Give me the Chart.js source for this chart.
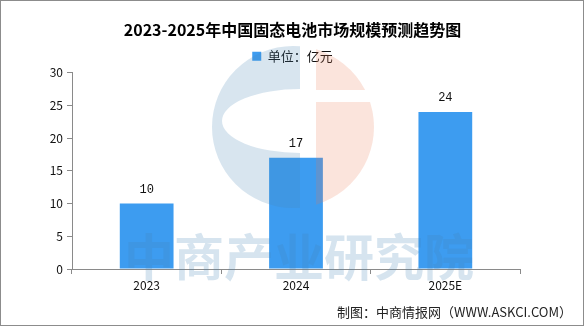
<!DOCTYPE html>
<html>
<head>
<meta charset="utf-8">
<script src="https://cdn.jsdelivr.net/npm/chart.js@4.4.0/dist/chart.umd.min.js"></script>
<style>
  html, body { margin: 0; padding: 0; background: #fff; }
  #wrap { position: relative; width: 585px; height: 327px; }
  #frame { position: absolute; left: 0; top: 0; width: 584px; height: 326px; box-sizing: border-box; border: 1px solid #8c8c8c; pointer-events: none; }
</style>
</head>
<body>
<div id="wrap">
  <canvas id="marketChart" width="585" height="327"></canvas>
  <div id="frame"></div>
</div>
<script>
const years = ['2023', '2024', '2025E'];
const marketSize = [10, 17, 24];
const yTicks = [0, 5, 10, 15, 20, 25, 30];
const seriesName = '单位：亿元';
const chartTitle = '2023-2025年中国固态电池市场规模预测趋势图';
const sourceNote = '制图：中商情报网（WWW.ASKCI.COM）';
const brandMark = '中商产业研究院';

const barColor = '#3d9cf0';
const axisColor = '#8a8a8a';
const cjk = '"Noto Sans CJK SC", sans-serif';

// faint logo + brand text laid over the plot
const watermark = {
  id: 'watermark',
  afterDatasetsDraw(chart) {
    const ctx = chart.ctx;
    const cx = 293, cy = 127, r = 81;

    // left half: "C" shaped ring
    ctx.save();
    ctx.beginPath();
    ctx.rect(cx - r - 2, cy - r - 2, 300 - (cx - r - 2), 2 * r + 4);
    ctx.clip();
    ctx.beginPath();
    ctx.arc(cx, cy, r, 0, Math.PI * 2);
    ctx.ellipse(300, 121, 78, 32, 0, 0, Math.PI * 2);
    ctx.fillStyle = 'rgba(70,130,180,0.21)';
    ctx.fill('evenodd');
    ctx.restore();

    // right half, split by a white bar
    ctx.save();
    ctx.beginPath();
    ctx.rect(316, cy - r - 2, r + 10, 90 - (cy - r - 2));
    ctx.rect(316, 102, r + 10, cy + r + 2 - 102);
    ctx.clip();
    ctx.beginPath();
    ctx.arc(cx, cy, r, 0, Math.PI * 2);
    ctx.fillStyle = 'rgba(235,120,80,0.2)';
    ctx.fill();
    ctx.restore();

    ctx.save();
    ctx.font = 'bold 50px ' + cjk;
    ctx.textAlign = 'center';
    ctx.textBaseline = 'middle';
    ctx.fillStyle = 'rgba(70,130,180,0.22)';
    ctx.fillText(brandMark, 299, 257);
    ctx.restore();
  }
};

// value above each bar, and the source line at the bottom right
const annotations = {
  id: 'annotations',
  afterDatasetsDraw(chart) {
    const ctx = chart.ctx;
    const meta = chart.getDatasetMeta(0);
    ctx.save();
    ctx.font = '12px "Liberation Mono", monospace';
    ctx.fillStyle = '#111';
    ctx.textAlign = 'center';
    ctx.textBaseline = 'middle';
    meta.data.forEach((bar, i) => {
      ctx.fillText(String(marketSize[i]), bar.x, bar.y - 14);
    });
    ctx.restore();
  },
  afterDraw(chart) {
    const ctx = chart.ctx;
    ctx.save();
    ctx.font = '13px ' + cjk;
    ctx.fillStyle = '#222';
    ctx.textAlign = 'right';
    ctx.textBaseline = 'middle';
    ctx.fillText(sourceNote, 572, 312);
    ctx.restore();
  }
};

new Chart(document.getElementById('marketChart'), {
  type: 'bar',
  data: {
    labels: years,
    datasets: [{
      label: seriesName,
      data: marketSize,
      backgroundColor: barColor,
      borderWidth: 0,
      barPercentage: 0.36,
      categoryPercentage: 1
    }]
  },
  options: {
    responsive: false,
    animation: false,
    layout: { padding: { left: 0, right: 0, top: 0, bottom: 0 } },
    plugins: {
      title: {
        display: true,
        text: chartTitle,
        color: '#000',
        font: { family: cjk, size: 16, weight: 'bold' },
        padding: { top: 20, bottom: 7 }
      },
      legend: {
        display: true,
        labels: {
          color: '#111',
          font: { family: cjk, size: 13 },
          boxWidth: 9,
          boxHeight: 9,
          padding: 3.5
        }
      },
      tooltip: { enabled: false }
    },
    scales: {
      x: {
        grid: { display: true, drawOnChartArea: false, offset: true, tickLength: 5, color: axisColor },
        border: { color: axisColor },
        ticks: { color: '#111', font: { family: cjk, size: 12 }, padding: 4 },
        afterFit: s => { s.height = 58; }
      },
      y: {
        min: yTicks[0],
        max: yTicks[yTicks.length - 1],
        grid: { display: true, drawOnChartArea: false, tickLength: 5, color: axisColor },
        border: { color: axisColor },
        ticks: { stepSize: yTicks[1] - yTicks[0], color: '#111', font: { family: cjk, size: 12 }, padding: 4 },
        afterFit: s => { s.width = 72; }
      },
      y1: {
        position: 'right',
        grid: { display: false },
        border: { display: false },
        ticks: { display: false },
        afterFit: s => { s.width = 65; }
      }
    }
  },
  plugins: [watermark, annotations]
});
</script>
</body>
</html>
